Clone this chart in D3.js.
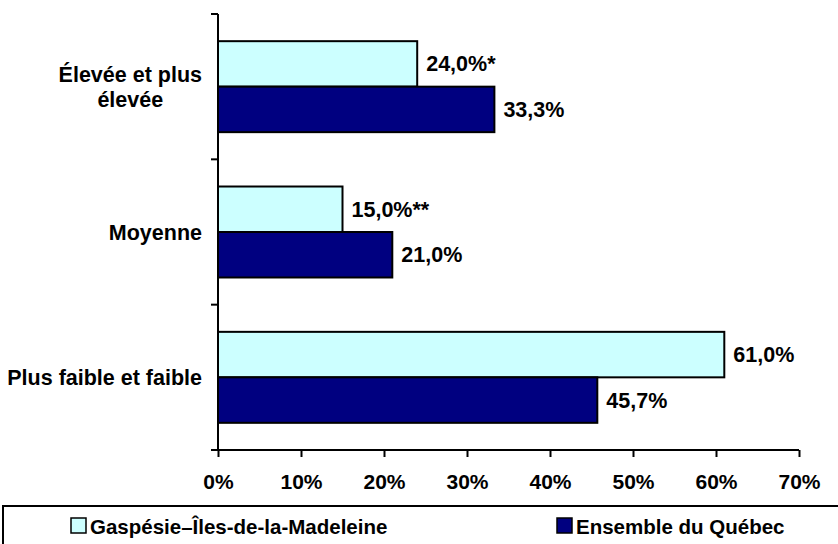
<!DOCTYPE html>
<html>
<head>
<meta charset="utf-8">
<script src="https://cdn.jsdelivr.net/npm/d3@7/dist/d3.min.js"></script>
<style>
html, body { margin: 0; padding: 0; background: #fff; }
svg { display: block; }
text { font-family: "Liberation Sans", Arial, sans-serif; font-weight: bold; fill: #000; }
</style>
</head>
<body>
<svg id="chart" width="838" height="544"></svg>
<script>
const categories = ["Élevée et plus élevée", "Moyenne", "Plus faible et faible"];
const categoryLines = [["Élevée et plus", "élevée"], ["Moyenne"], ["Plus faible et faible"]];
const seriesNames = ["Gaspésie–Îles-de-la-Madeleine", "Ensemble du Québec"];
const gaspesieValues = [24.0, 15.0, 61.0];
const quebecValues = [33.3, 21.0, 45.7];
const gaspesieLabels = ["24,0%*", "15,0%**", "61,0%"];
const quebecLabels = ["33,3%", "21,0%", "45,7%"];
const xTicks = [0, 10, 20, 30, 40, 50, 60, 70];
const colors = ["#CCFFFF", "#000080"];

const svg = d3.select("#chart");
const x = d3.scaleLinear().domain([0, 70]).range([218, 799]);
const y = d3.scaleBand().domain(categories).range([14, 450]).paddingInner(0.374).paddingOuter(0.187);
const sub = d3.scaleBand().domain([0, 1]).range([0, y.bandwidth()]);

const series = [
  { values: gaspesieValues, labels: gaspesieLabels },
  { values: quebecValues, labels: quebecLabels }
];

// bars
series.forEach((s, si) => {
  const g = svg.append("g");
  g.selectAll("rect").data(categories).enter().append("rect")
    .attr("x", x(0))
    .attr("y", d => y(d) + sub(si))
    .attr("width", (d, i) => x(s.values[i]) - x(0))
    .attr("height", sub.bandwidth())
    .attr("fill", colors[si])
    .attr("stroke", "#000")
    .attr("stroke-width", 2);
  g.selectAll("text").data(categories).enter().append("text")
    .attr("x", (d, i) => x(s.values[i]) + 9)
    .attr("y", d => y(d) + sub(si) + sub.bandwidth() / 2 + 7.5)
    .style("font-size", "21.5px")
    .text((d, i) => s.labels[i]);
});

// y axis
const yLine = svg.append("g");
yLine.append("line").attr("x1", x(0)).attr("x2", x(0)).attr("y1", 14).attr("y2", 450)
  .attr("stroke", "#000").attr("stroke-width", 2);
const step = y.step();
const boundaries = [0, 1, 2, 3].map(i => 14 + i * step);
yLine.selectAll("line.tk").data(boundaries).enter().append("line").attr("class", "tk")
  .attr("x1", x(0) - 7).attr("x2", x(0)).attr("y1", d => d).attr("y2", d => d)
  .attr("stroke", "#000").attr("stroke-width", 2);

// category labels
categories.forEach((c, i) => {
  const lines = categoryLines[i];
  const cy = y(c) + y.bandwidth() / 2;
  const lh = 25;
  const t = svg.append("text").style("font-size", "21.5px").attr("text-anchor", "middle");
  lines.forEach((l, li) => {
    t.append("tspan").attr("x", 0).attr("y", cy + 7.5 + (li - (lines.length - 1) / 2) * lh).text(l);
  });
  const w = d3.max(t.selectAll("tspan").nodes(), n => n.getComputedTextLength());
  t.selectAll("tspan").attr("x", 202 - w / 2);
});

// x axis
const xAxis = d3.axisBottom(x).tickValues(xTicks).tickFormat(d => d + "%").tickSize(7).tickPadding(17);
const gx = svg.append("g").attr("transform", "translate(0,450)").call(xAxis);
gx.select(".domain").attr("stroke", "#000").attr("stroke-width", 2).attr("d", `M${x(0)},0H${x(70)}`);
gx.selectAll(".tick line").attr("stroke", "#000").attr("stroke-width", 2);
gx.selectAll(".tick text").style("font-size", "21px").style("font-family", "Liberation Sans, Arial, sans-serif").style("font-weight", "bold").attr("fill", "#000");

// legend
const lg = svg.append("g");
lg.append("rect").attr("x", 3).attr("y", 506).attr("width", 900).attr("height", 60)
  .attr("fill", "#fff").attr("stroke", "#000").attr("stroke-width", 2);
const legendX = [71, 557];
seriesNames.forEach((n, i) => {
  lg.append("rect").attr("x", legendX[i]).attr("y", 518).attr("width", 15).attr("height", 15)
    .attr("fill", colors[i]).attr("stroke", "#000").attr("stroke-width", 1.5);
  lg.append("text").attr("x", legendX[i] + 19).attr("y", 534).style("font-size", "20.5px").text(n);
});
</script>
</body>
</html>
